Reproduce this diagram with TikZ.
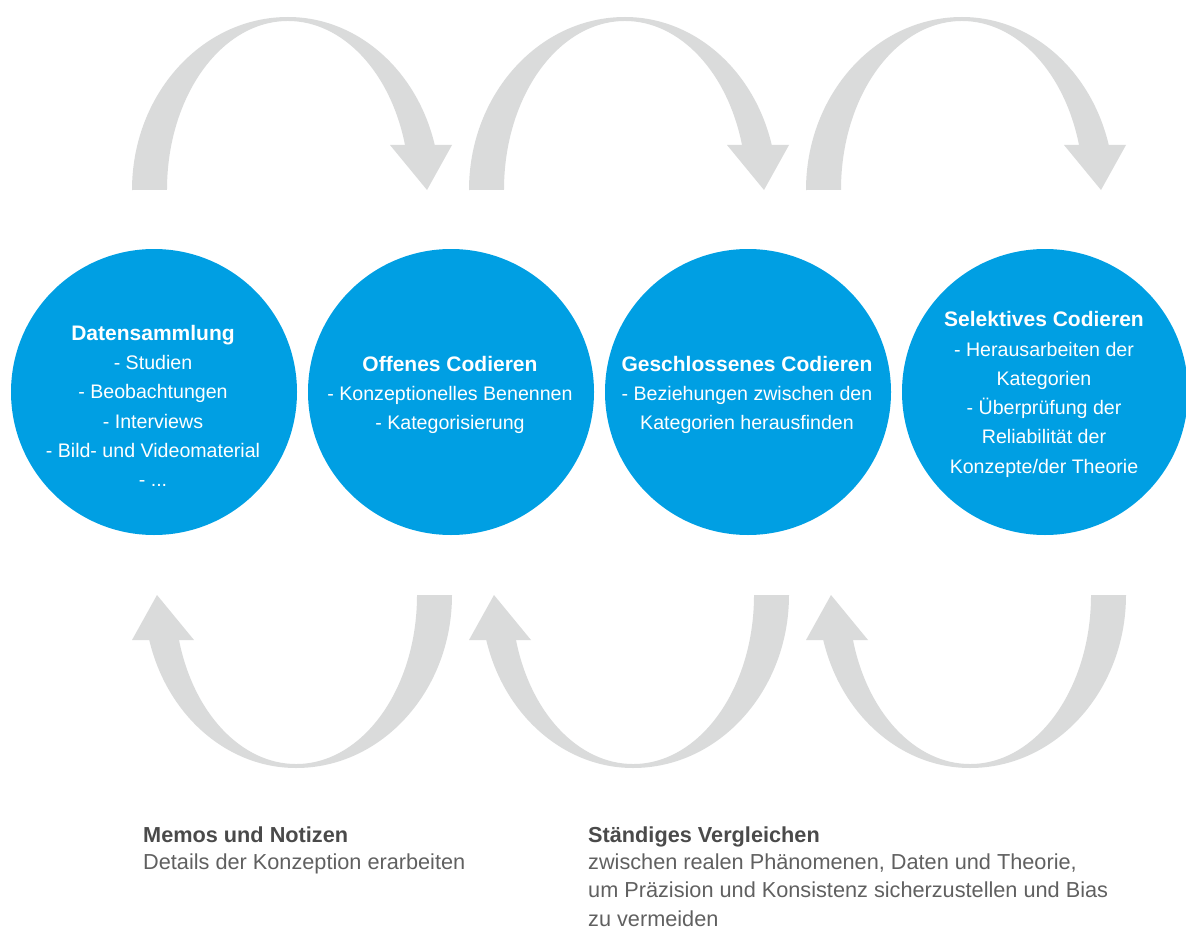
\documentclass[tikz,border=0pt]{standalone}
\usepackage{fontspec}
\setmainfont{Liberation Sans}
\definecolor{cblue}{HTML}{009FE3}
\definecolor{agray}{HTML}{DADBDB}
\definecolor{tdark}{HTML}{4A4A4A}
\definecolor{tmid}{HTML}{606060}
\tikzset{
  stage/.style={circle, fill=cblue, minimum size=286pt, inner sep=0pt},
  stagetext/.style={text=white, align=center, inner sep=0pt,
    font=\fontsize{19.6}{29.3}\selectfont},
  notetext/.style={align=left, inner sep=0pt, anchor=north west, text=tmid,
    font=\fontsize{21.7}{30}\selectfont},
  looparrow/.pic={
    \fill[agray, shift={(-292,-392.5)}]
      (132,190) arc[start angle=180, end angle=270, x radius=156, y radius=173]
      arc[start angle=270, end angle=344.92, x radius=152, y radius=173]
      -- (452,145) -- (427,190) -- (390,145) -- (405,145)
      arc[start angle=344.56, end angle=270, x radius=121.4, y radius=169]
      arc[start angle=270, end angle=180, x radius=121, y radius=169]
      -- cycle;
  }
}
\newcommand{\ttl}[1]{{\bfseries\fontsize{21}{29.3}\selectfont #1}\strut}
\begin{document}
\begin{tikzpicture}[x=1pt, y=-1pt]
\useasboundingbox (0,0) rectangle (1186,931);
% loop arrows
\foreach \k in {0,1,2} {
  \pic (top\k) at (292+337*\k, 392.5) {looparrow};
  \pic[rotate=180] (bot\k) at (292+337*\k, 392.5) {looparrow};
}
% stages
\node[stage] (c1) at (154,392) {};
\node[stage] (c2) at (451,392) {};
\node[stage] (c3) at (748,392) {};
\node[stage] (c4) at (1045,392) {};
\node[stagetext] (t1) at (153,407.6) {\ttl{Datensammlung}\\ - Studien\strut\\ - Beobachtungen\strut\\ - Interviews\strut\\ - Bild- und Videomaterial\strut\\ - ...\strut};
\node[stagetext] (t2) at (450,394.5) {\ttl{Offenes Codieren}\\ - Konzeptionelles Benennen\strut\\ - Kategorisierung\strut};
\node[stagetext] (t3) at (747,394.5) {\ttl{Geschlossenes Codieren}\\ - Beziehungen zwischen den\strut\\ Kategorien herausfinden\strut};
\node[stagetext] (t4) at (1044,394.1) {\ttl{Selektives Codieren}\\ - Herausarbeiten der\strut\\ Kategorien\strut\\ - Überprüfung der\strut\\ Reliabilität der\strut\\ Konzepte/der Theorie\strut};
% notes
\node[notetext] (memo) at (143,821) {{\bfseries\color{tdark}Memos und Notizen}\strut\\[-3pt] Details der Konzeption erarbeiten\strut};
\node[notetext, font=\fontsize{21.7}{28.5}\selectfont] (comp) at (588,822) {{\bfseries\color{tdark}Ständiges Vergleichen}\strut\\[-1.5pt] zwischen realen Phänomenen, Daten und Theorie,\strut\\ um Präzision und Konsistenz sicherzustellen und Bias\strut\\ zu vermeiden};
\end{tikzpicture}
\end{document}
